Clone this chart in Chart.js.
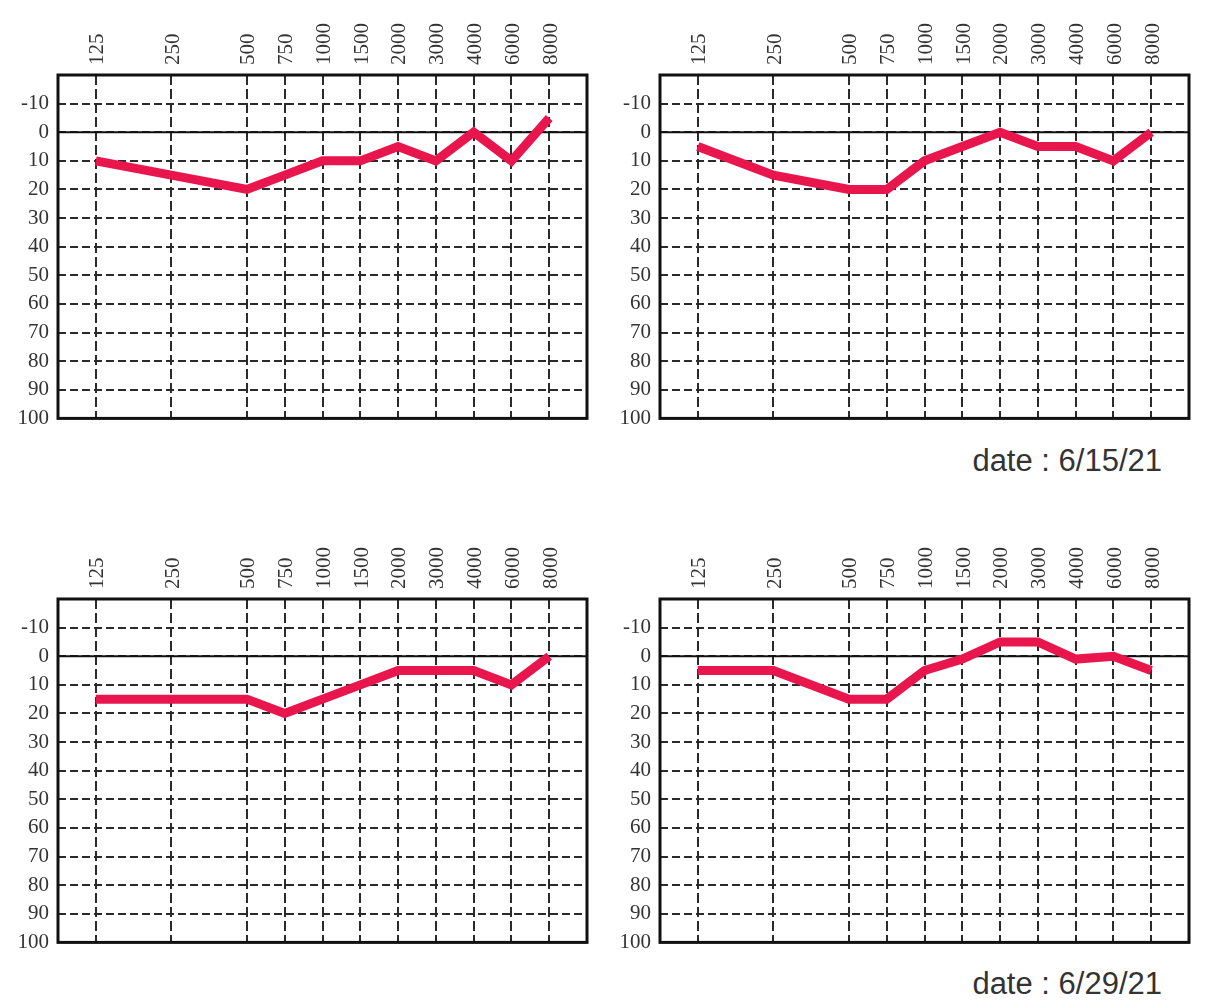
<!DOCTYPE html>
<html>
<head>
<meta charset="utf-8">
<script src="https://cdn.jsdelivr.net/npm/chart.js@4.4.0/dist/chart.umd.min.js"></script>
<style>
body { margin: 0; background: #fff; width: 1206px; height: 1008px; position: relative; overflow: hidden; }
.box { position: absolute; width: 600px; height: 440px; }
.date { position: absolute; right: 44px; font-family: "Liberation Sans", Arial, sans-serif; font-size: 31px; line-height: 30px; color: #333; }
</style>
</head>
<body>
<div class="box" style="left:0;top:0"><canvas id="c1"></canvas></div>
<div class="box" style="left:602px;top:0"><canvas id="c2"></canvas></div>
<div class="box" style="left:0;top:524px"><canvas id="c3"></canvas></div>
<div class="box" style="left:602px;top:524px"><canvas id="c4"></canvas></div>
<div class="date" style="top:446px">date : 6/15/21</div>
<div class="date" style="top:969px">date : 6/29/21</div>

<script>
// frequency labels and their slot on the audiogram grid (half-octave steps)
const freqLabels = ['125', '250', '500', '750', '1000', '1500', '2000', '3000', '4000', '6000', '8000'];
const freqSlots = [0, 2, 4, 5, 6, 7, 8, 9, 10, 11, 12];
const dbTicks = [-10, 0, 10, 20, 30, 40, 50, 60, 70, 80, 90, 100];

const topLeftDb = [10, 15, 20, 15, 10, 10, 5, 10, 0, 10, -5];
const topRightDb = [5, 15, 20, 20, 10, 5, 0, 5, 5, 10, 0];
const bottomLeftDb = [15, 15, 15, 20, 15, 10, 5, 5, 5, 10, 0];
const bottomRightDb = [5, 5, 15, 15, 5, 1, -5, -5, 1, 0, 5];

const lineColor = '#e8164c';
const tickFont = { family: 'Liberation Serif', size: 21 };

// zero line and box round the plot
const frame = {
    id: 'frame',
    beforeDatasetsDraw(chart) {
        const ctx = chart.ctx;
        const a = chart.chartArea;
        const y0 = chart.scales.y.getPixelForValue(0);
        ctx.save();
        ctx.strokeStyle = '#111';
        ctx.lineWidth = 2;
        ctx.beginPath();
        ctx.moveTo(a.left, y0);
        ctx.lineTo(a.right, y0);
        ctx.stroke();
        ctx.lineWidth = 3;
        ctx.strokeRect(a.left, a.top, a.right - a.left, a.bottom - a.top);
        ctx.restore();
    }
};

function audiogram(id, values) {
    const points = values.map((v, i) => ({ x: freqSlots[i], y: v }));
    return new Chart(document.getElementById(id), {
        type: 'line',
        data: {
            datasets: [{
                data: points,
                borderColor: lineColor,
                borderWidth: 9,
                borderJoinStyle: 'miter',
                pointRadius: 0,
                tension: 0,
                clip: false
            }]
        },
        options: {
            responsive: true,
            maintainAspectRatio: false,
            animation: false,
            layout: { padding: { top: 0, left: 0, right: 13, bottom: 20 } },
            plugins: { legend: { display: false }, tooltip: { enabled: false } },
            scales: {
                x: {
                    type: 'linear',
                    position: 'top',
                    min: -1,
                    max: 13,
                    afterBuildTicks: scale => {
                        scale.ticks = freqSlots.map(s => ({ value: s }));
                    },
                    afterFit: scale => { scale.height = 75; },
                    ticks: {
                        autoSkip: false,
                        minRotation: 90,
                        maxRotation: 90,
                        padding: 10,
                        labelOffset: 27,
                        color: '#333',
                        font: tickFont,
                        callback: v => freqLabels[freqSlots.indexOf(v)]
                    },
                    grid: { color: '#2a2a2a', lineWidth: 2, drawTicks: false },
                    border: { display: false, dash: [10, 4] }
                },
                y: {
                    type: 'linear',
                    reverse: true,
                    min: -20,
                    max: 100,
                    afterBuildTicks: scale => {
                        scale.ticks = dbTicks.map(v => ({ value: v }));
                    },
                    afterFit: scale => { scale.width = 58; },
                    ticks: {
                        padding: 9,
                        color: '#333',
                        font: tickFont,
                        callback: v => String(v)
                    },
                    grid: { color: '#2a2a2a', lineWidth: 2, drawTicks: false },
                    border: { display: false, dash: [8, 4] }
                }
            }
        },
        plugins: [frame]
    });
}

audiogram('c1', topLeftDb);
audiogram('c2', topRightDb);
audiogram('c3', bottomLeftDb);
audiogram('c4', bottomRightDb);
</script>
</body>
</html>
